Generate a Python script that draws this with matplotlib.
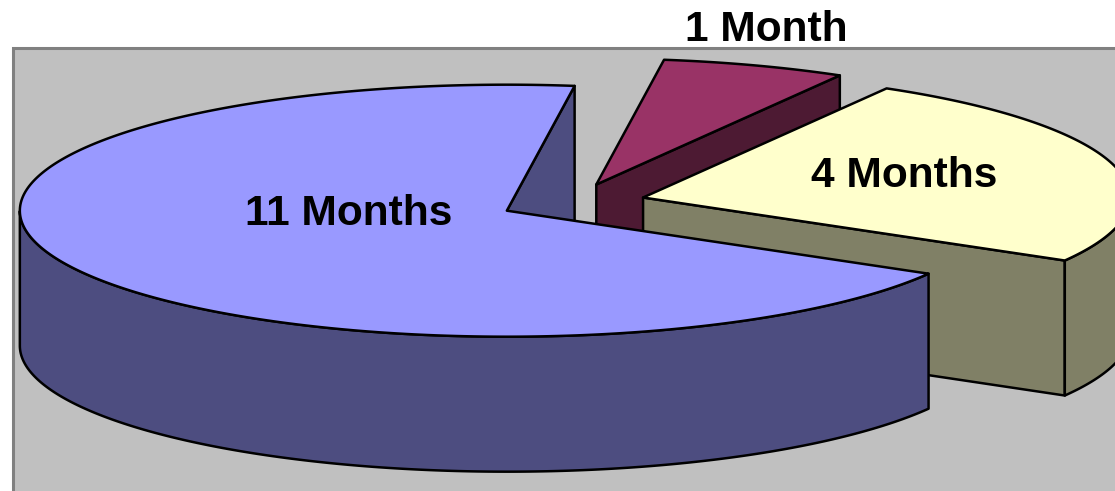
import matplotlib
matplotlib.use("Agg")
import matplotlib.pyplot as plt
from matplotlib.patches import Polygon, Rectangle
import numpy as np

# slices in clockwise order starting from the first slice angle
# (values as measured from the slice angles in the picture)
labels = ["1 Month", "4 Months", "11 Months"]
months = [0.978, 4.0, 11.022]
top_colors = ["#993366", "#FFFFCC", "#9999FF"]
side_colors = ["#4D1A33", "#808066", "#4D4D80"]
label_pos = [(766, 30), (904, 176), (349, 214)]

first_angle = 82.0
explode = 0.150
center = (572.5, 202.4)
rx, ry = 487.0, 126.0
depth = 135.0

W, H = 1115, 491
fig = plt.figure(figsize=(W / 100, H / 100), dpi=100)
ax = fig.add_axes([0, 0, 1, 1])
ax.set_xlim(0, W)
ax.set_ylim(H, 0)
ax.axis("off")

ax.add_patch(Rectangle((12.5, 47.5), 1200, 600, fc="#C0C0C0", ec="#808080", lw=2.2))


def rim(cx, cy, a):
    # points on the ellipse for angles in degrees
    a = np.radians(a)
    return np.column_stack([cx + rx * np.cos(a), cy - ry * np.sin(a)])


def draw(pts, color):
    ax.add_patch(Polygon(pts, closed=True, fc=color, ec="black", lw=1.8, joinstyle="round"))


start = first_angle
total = sum(months)
for m, top, side in zip(months, top_colors, side_colors):
    sweep = 360.0 * m / total
    end = start - sweep
    mid = np.radians((start + end) / 2)
    cx = center[0] + explode * rx * np.cos(mid)
    cy = center[1] - explode * ry * np.sin(mid)

    # radial walls, only those facing the viewer
    walls = []
    if np.cos(np.radians(start)) < 0:
        walls.append(start)
    if np.cos(np.radians(end)) > 0:
        walls.append(end)
    for a in walls:
        p = rim(cx, cy, [a])[0]
        draw([(cx, cy), p, (p[0], p[1] + depth), (cx, cy + depth)], side)

    # outer wall, only the part facing the viewer
    a = np.linspace(start, end, 400)
    a = a[np.sin(np.radians(a)) <= 0]
    if len(a):
        up = rim(cx, cy, a)
        down = up + [0, depth]
        draw(np.vstack([up, down[::-1]]), side)

    arc = rim(cx, cy, np.linspace(start, end, 400))
    draw(np.vstack([[(cx, cy)], arc]), top)
    start = end

for t, (x, y) in zip(labels, label_pos):
    ax.text(x, y, t, ha="center", va="center", fontsize=30.6, fontweight="bold",
            family="Liberation Sans", color="black")

fig.savefig("out.png", dpi=100)
